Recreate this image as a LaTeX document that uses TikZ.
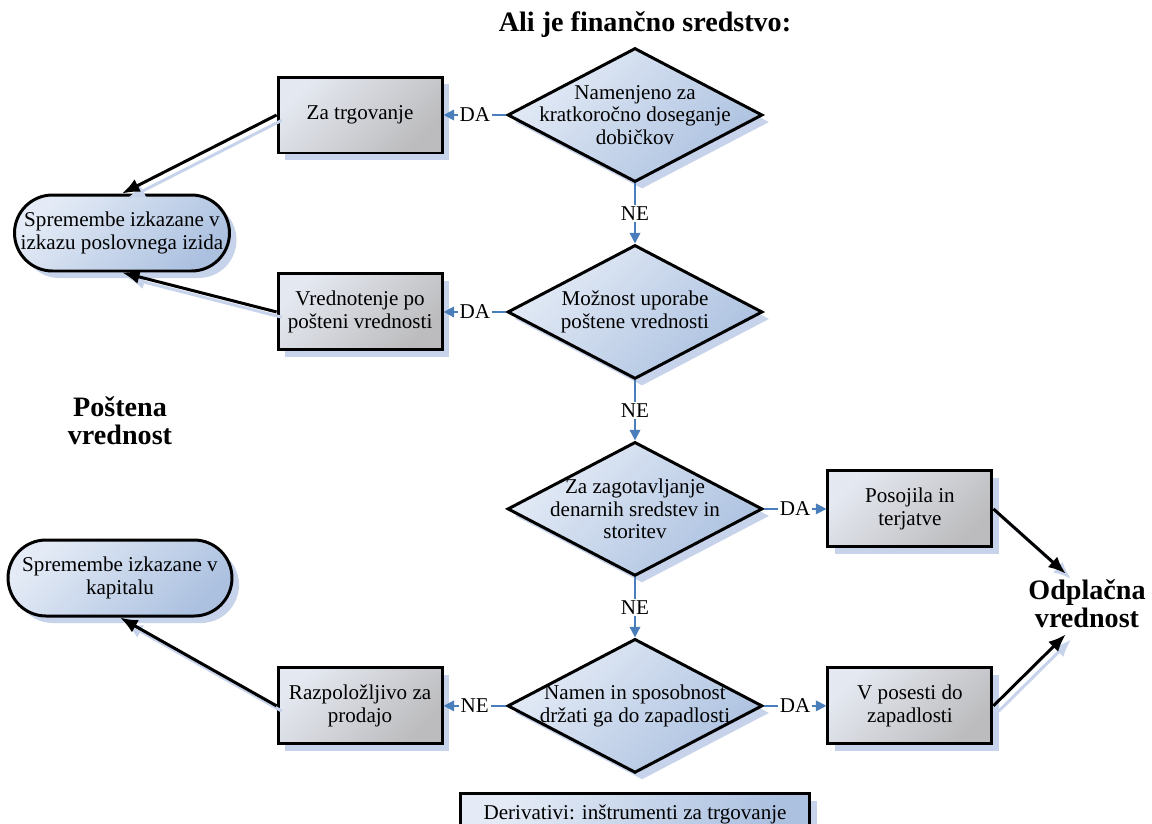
\documentclass[tikz,border=0pt]{standalone}
\usepackage{fontspec}
\setmainfont{Liberation Serif}
\usepackage{tikz}
\usetikzlibrary{arrows.meta,positioning,shapes.geometric,shadows}

\definecolor{linkblue}{RGB}{74,126,187}
\definecolor{shadowblue}{RGB}{198,211,235}
\definecolor{bluelight}{RGB}{228,235,246}
\definecolor{bluedark}{RGB}{172,193,224}
\definecolor{graylight}{RGB}{228,232,240}
\definecolor{graydark}{RGB}{188,188,190}

\tikzset{
  base/.style={draw=black, line width=1.7pt, font=\fontsize{12}{13}\selectfont, align=center,
    drop shadow={shadow xshift=4pt, shadow yshift=-4pt, fill=shadowblue, opacity=1}},
  question/.style={base, diamond, minimum width=5.1cm, minimum height=2.68cm, inner sep=0pt,
    top color=bluelight, bottom color=bluedark, shading angle=45},
  qtext/.style={font=\fontsize{12}{13}\selectfont, align=center, inner sep=0pt},
  box/.style={base, rectangle, minimum width=3.28cm, minimum height=1.52cm, inner sep=2pt,
    top color=graylight, bottom color=graydark, shading angle=45},
  final/.style={base, rectangle, rounded corners=0.76cm, minimum width=4.3cm, minimum height=1.52cm,
    inner sep=0pt, top color=bluelight, bottom color=bluedark, shading angle=45},
  deriv/.style={base, rectangle, minimum width=6.98cm, minimum height=0.84cm,
    top color=bluelight, bottom color=bluedark, shading angle=60},
  bigtext/.style={font=\fontsize{16}{16}\selectfont\bfseries, align=center},
  link/.style={draw=linkblue, line width=1pt, -{Triangle[length=6pt,width=6pt]}},
  ans/.style={fill=white, inner sep=1pt, font=\fontsize{12}{13}\selectfont},
  flow/.style={line width=1.7pt, -{Latex[length=10pt,width=8pt]},
    preaction={draw=shadowblue, line width=1.7pt, transform canvas={shift={(3pt,-3pt)}}}}
}

\begin{document}
\begin{tikzpicture}[x=0.02cm, y=-0.02cm]
\useasboundingbox (0,0) rectangle (1152,823);

\node[bigtext] (title) at (645,25) {Ali je finančno sredstvo:};

\node[question, label={[qtext]center:{Namenjeno za\\kratkoročno doseganje\\dobičkov}}] (d1) at (635,115) {};
\node[question, below=1.2cm of d1, label={[qtext]center:{Možnost uporabe\\poštene vrednosti}}] (d2) {};
\node[question, below=1.2cm of d2, label={[qtext]center:{Za zagotavljanje\\denarnih sredstev in\\storitev}}] (d3) {};
\node[question, below=1.2cm of d3, label={[qtext]center:{Namen in sposobnost\\držati ga do zapadlosti}}] (d4) {};

\node[box, left=1.25cm of d1] (r1) {Za trgovanje};
\node[box, left=1.25cm of d2] (r2) {Vrednotenje po\\pošteni vrednosti};
\node[box, right=1.25cm of d3] (r3) {Posojila in\\terjatve};
\node[box, right=1.25cm of d4] (r4) {V posesti do\\zapadlosti};
\node[box, left=1.25cm of d4] (r5) {Razpoložljivo za\\prodajo};

\node[deriv, below=0.36cm of d4] (der) {Derivativi: inštrumenti za trgovanje};

\node[final] (t1) at (122,233) {Spremembe izkazane v\\izkazu poslovnega izida};
\node[final, minimum width=4.48cm] (t2) at (120,578) {Spremembe izkazane v\\kapitalu};

\node[bigtext] (fair) at (120,421) {Poštena\\vrednost};
\node[bigtext] (amort) at (1087,604) {Odplačna\\vrednost};

\draw[link] (d1.west) -- node[ans]{DA} (r1.east);
\draw[link] (d2.west) -- node[ans]{DA} (r2.east);
\draw[link] (d3.east) -- node[ans]{DA} (r3.west);
\draw[link] (d4.east) -- node[ans]{DA} (r4.west);
\draw[link] (d4.west) -- node[ans]{NE} (r5.east);
\draw[link] (d1.south) -- node[ans]{NE} (d2.north);
\draw[link] (d2.south) -- node[ans]{NE} (d3.north);
\draw[link] (d3.south) -- node[ans]{NE} (d4.north);

\draw[flow] (r1.west) -- (t1.north);
\draw[flow] (r2.west) -- (t1.south);
\draw[flow] (r5.west) -- (t2.south);
\draw[flow] (r3.east) -- (amort.125);
\draw[flow] (r4.east) -- (amort.235);
\end{tikzpicture}
\end{document}
